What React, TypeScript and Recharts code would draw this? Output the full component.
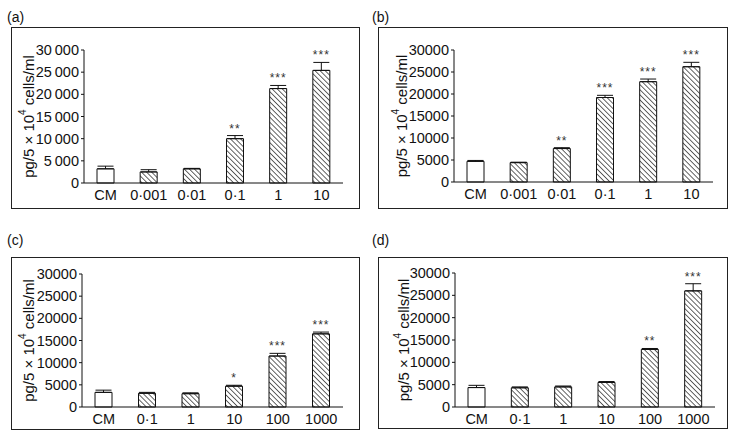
import React from "react";
import { Bar, BarChart, Cell, ErrorBar, LabelList, XAxis, YAxis } from "recharts";

// panel (a)
const catsA = ["CM", "0·001", "0·01", "0·1", "1", "10"];
const valsA = [3200, 2500, 3200, 10000, 21300, 25400];
const errsA = [600, 500, 100, 700, 700, 1800];
const starsA = ["", "", "", "**", "***", "***"];

// panel (b)
const catsB = ["CM", "0·001", "0·01", "0·1", "1", "10"];
const valsB = [4700, 4400, 7600, 19200, 22800, 26200];
const errsB = [200, 100, 200, 500, 600, 1000];
const starsB = ["", "", "**", "***", "***", "***"];

// panel (c)
const catsC = ["CM", "0·1", "1", "10", "100", "1000"];
const valsC = [3300, 3100, 3000, 4700, 11500, 16500];
const errsC = [500, 200, 200, 200, 600, 400];
const starsC = ["", "", "", "*", "***", "***"];

// panel (d)
const catsD = ["CM", "0·1", "1", "10", "100", "1000"];
const valsD = [4350, 4300, 4500, 5500, 12900, 26000];
const errsD = [500, 200, 200, 200, 200, 1600];
const starsD = ["", "", "", "", "**", "***"];

const yTicks = [0, 5000, 10000, 15000, 20000, 25000, 30000];

const FONT = "'Liberation Sans', Arial, Helvetica, sans-serif";

type PanelProps = {
  id: string;
  label: string;
  cats: string[];
  vals: number[];
  errs: number[];
  stars: string[];
  spaced?: boolean;
  left: number;
  top: number;
  w: number;
  h: number;
  margin: { top: number; right: number; left: number };
  xh: number;
  labelX: number;
  tagX: number;
  tagY: number;
};

function Panel(p: PanelProps) {
  const data = p.cats.map((c, i) => ({ cat: c, v: p.vals[i], e: [0, p.errs[i]] }));
  const plotH = p.h - p.margin.top - p.xh;
  const fmt = (v: number) =>
    p.spaced && v >= 1000 ? `${Math.floor(v / 1000)}\u2009${String(v % 1000).padStart(3, "0")}` : String(v);

  const renderStars = (props: any) => {
    const { x, y, width, height, index } = props;
    const s = p.stars[index];
    if (!s) return null;
    const ppu = height / p.vals[index];
    const top = y - p.errs[index] * ppu;
    return (
      <text x={x + width / 2} y={top - 3} textAnchor="middle" fontSize={12} fill="#333" fontFamily={FONT} letterSpacing={1}>
        {s}
      </text>
    );
  };

  const yLabel = () => {
    const cx = p.labelX;
    const cy = p.margin.top + plotH / 2;
    return (
      <text
        x={cx}
        y={cy}
        transform={`rotate(-90 ${cx} ${cy})`}
        textAnchor="middle"
        dominantBaseline="central"
        fontSize={15}
        fill="#111"
        fontFamily={FONT}
      >
        pg/5 × 10<tspan dy={-6} fontSize={10}>4</tspan>
        <tspan dy={6}> cells/ml</tspan>
      </text>
    );
  };

  return (
    <>
      <div
        style={{
          position: "absolute",
          left: p.tagX,
          top: p.tagY,
          fontSize: 14,
          fontFamily: FONT,
          color: "#111",
          lineHeight: "14px",
        }}
      >
        {p.label}
      </div>
      <div
        style={{
          position: "absolute",
          left: p.left,
          top: p.top,
          width: p.w,
          height: p.h,
          border: "1px solid #222",
          boxSizing: "border-box",
        }}
      />
      <div style={{ position: "absolute", left: p.left, top: p.top }}>
        <BarChart
          width={p.w}
          height={p.h}
          data={data}
          margin={{ ...p.margin, bottom: 0 }}
          barCategoryGap={0}
        >
          <defs>
            <pattern id={p.id} width={3.6} height={3.6} patternUnits="userSpaceOnUse" patternTransform="rotate(-45)">
              <rect width={3.6} height={3.6} fill="#fff" />
              <line x1={0} y1={0} x2={0} y2={3.6} stroke="#111" strokeWidth={1.3} />
            </pattern>
          </defs>
          <XAxis
            dataKey="cat"
            height={p.xh}
            tickLine={false}
            tickSize={6}
            tickMargin={1}
            axisLine={{ stroke: "#111" }}
            interval={0}
            tick={{ fill: "#111", fontSize: 14.5, fontFamily: FONT }}
          />
          <YAxis
            domain={[0, 30000]}
            ticks={yTicks}
            width={60}
            interval={0}
            tickSize={3}
            tickMargin={2}
            tickFormatter={fmt}
            axisLine={{ stroke: "#111" }}
            tickLine={{ stroke: "#111" }}
            tick={{ fill: "#111", fontSize: 14.5, fontFamily: FONT }}
            label={yLabel}
          />
          <Bar dataKey="v" barSize={17} stroke="#111" strokeWidth={1} isAnimationActive={false}>
            {data.map((d, i) => (
              <Cell key={d.cat} fill={i === 0 ? "#fff" : `url(#${p.id})`} />
            ))}
            <ErrorBar dataKey="e" direction="y" width={8} stroke="#111" strokeWidth={1} isAnimationActive={false} />
            <LabelList dataKey="v" content={renderStars} />
          </Bar>
        </BarChart>
      </div>
    </>
  );
}

export default function App() {
  return (
    <div style={{ position: "absolute", left: 0, top: 0, width: 731, height: 440, background: "#fff", fontFamily: FONT }}>
      <Panel
        id="hatchA"
        label="(a)"
        cats={catsA}
        vals={valsA}
        errs={errsA}
        stars={starsA}
        spaced
        left={11}
        top={27}
        w={349}
        h={182}
        margin={{ top: 23, right: 17, left: 13 }}
        xh={26}
        labelX={17}
        tagX={7}
        tagY={10}
      />
      <Panel
        id="hatchB"
        label="(b)"
        cats={catsB}
        vals={valsB}
        errs={errsB}
        stars={starsB}
        left={378}
        top={27}
        w={350}
        h={182}
        margin={{ top: 23, right: 15, left: 16 }}
        xh={27}
        labelX={23}
        tagX={372}
        tagY={10}
      />
      <Panel
        id="hatchC"
        label="(c)"
        cats={catsC}
        vals={valsC}
        errs={errsC}
        stars={starsC}
        left={11}
        top={257}
        w={349}
        h={173}
        margin={{ top: 17, right: 17, left: 11 }}
        xh={23}
        labelX={17}
        tagX={7}
        tagY={233}
      />
      <Panel
        id="hatchD"
        label="(d)"
        cats={catsD}
        vals={valsD}
        errs={errsD}
        stars={starsD}
        left={378}
        top={257}
        w={350}
        h={172}
        margin={{ top: 16, right: 13, left: 17 }}
        xh={22}
        labelX={25}
        tagX={372}
        tagY={233}
      />
    </div>
  );
}
